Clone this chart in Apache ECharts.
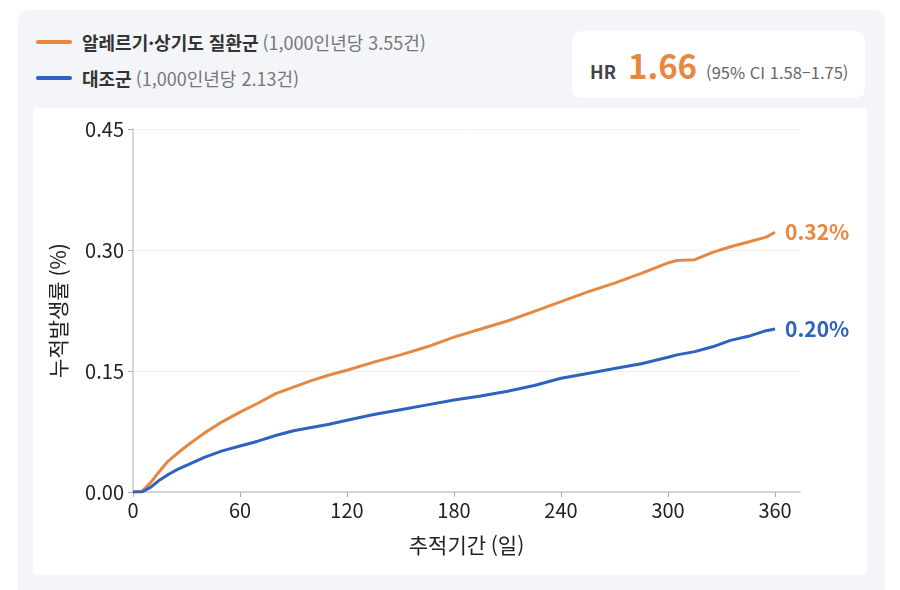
<!DOCTYPE html>
<html lang="ko">
<head>
<meta charset="utf-8">
<title>누적발생률</title>
<script src="https://cdn.jsdelivr.net/npm/echarts@6.0.0/dist/echarts.min.js"></script>
<style>
  html, body { margin: 0; padding: 0; background: #fff; }
  body { width: 900px; height: 590px; position: relative; overflow: hidden;
         font-family: "Noto Sans CJK KR", "Noto Sans", sans-serif; }
  .card { position: absolute; left: 18px; top: 10px; width: 867px; height: 600px;
          background: #f3f5f9; border-radius: 10px; }
  .legend { position: absolute; left: 18px; top: 14px; }
  .legend .row { display: flex; align-items: center; height: 36px; font-size: 18px; color: #333; }
  .legend .swatch { width: 36px; height: 4px; border-radius: 2px; margin-right: 10px; }
  .legend b { font-weight: 700; }
  .legend .note { color: #777; margin-left: 4px; }
  .hr { position: absolute; left: 554px; top: 21px; width: 293px; height: 67px;
        background: #fff; border-radius: 9px; }
  .hr .line { position: absolute; left: 18px; top: 0; height: 67px; display: flex;
              align-items: baseline; padding-top: 14px; box-sizing: border-box; white-space: nowrap; }
  .hr .k { font-weight: 700; font-size: 18px; color: #444; }
  .hr .v { font-weight: 700; font-size: 33px; color: #e8873f; margin-left: 12px; line-height: 40px; }
  .hr .ci { font-size: 16.5px; color: #666; margin-left: 9px; }
  #chart { position: absolute; left: 15px; top: 98px; width: 834px; height: 467px;
           background: #fff; border-radius: 4px; }
</style>
</head>
<body>
<div class="card">
  <div class="legend">
    <div class="row"><span class="swatch" style="background:#e8873f"></span><b>알레르기·상기도 질환군</b><span class="note">(1,000인년당 3.55건)</span></div>
    <div class="row"><span class="swatch" style="background:#2e62c0"></span><b>대조군</b><span class="note">(1,000인년당 2.13건)</span></div>
  </div>
  <div class="hr"><div class="line"><span class="k">HR</span><span class="v">1.66</span><span class="ci">(95% CI 1.58–1.75)</span></div></div>
  <div id="chart"></div>
</div>
<script>
(function() {
    'use strict';

    // follow-up day
    var days = [0, 5, 10, 15, 20, 25, 30, 40, 50, 60, 70, 80, 90, 100, 110, 120,
                135, 150, 165, 180, 195, 210, 225, 240, 255, 270, 285, 300,
                305, 315, 325, 335, 345, 355, 360];
    // cumulative incidence (%)
    var allergyVals = [0, 0.001, 0.012, 0.026, 0.039, 0.048, 0.057, 0.073, 0.087, 0.099,
                       0.110, 0.122, 0.130, 0.138, 0.145, 0.151, 0.161, 0.170, 0.180,
                       0.192, 0.202, 0.212, 0.224, 0.236, 0.248, 0.259, 0.271, 0.284,
                       0.287, 0.288, 0.297, 0.304, 0.310, 0.316, 0.322];
    var controlVals = [0, 0, 0.006, 0.015, 0.022, 0.028, 0.033, 0.043, 0.051, 0.057,
                       0.063, 0.070, 0.076, 0.080, 0.084, 0.089, 0.096, 0.102, 0.108,
                       0.114, 0.119, 0.125, 0.132, 0.141, 0.147, 0.153, 0.159, 0.167,
                       0.170, 0.174, 0.180, 0.188, 0.193, 0.200, 0.202];
    var xTicks = [0, 60, 120, 180, 240, 300, 360];

    var ORANGE = '#e8873f', BLUE = '#2e62c0';
    var FONT = '"Noto Sans CJK KR", "Noto Sans", sans-serif';

    function pairs(vals) {
        return days.map(function(d, i) { return [d, vals[i]]; });
    }

    function makeSeries(name, vals, color) {
        return {
            name: name,
            type: 'line',
            data: pairs(vals),
            showSymbol: false,
            smooth: false,
            lineStyle: { color: color, width: 3 },
            itemStyle: { color: color },
            endLabel: {
                show: true,
                distance: 10,
                color: color,
                fontSize: 21,
                fontWeight: 'bold',
                fontFamily: FONT,
                formatter: function(p) { return p.value[1].toFixed(2) + '%'; }
            }
        };
    }

    var chart = echarts.init(document.getElementById('chart'));
    chart.setOption({
        animation: false,
        grid: { left: 100, top: 21, right: 67, bottom: 83 },
        xAxis: {
            type: 'value',
            min: 0,
            max: 374,
            name: '추적기간 (일)',
            nameLocation: 'middle',
            nameGap: 43,
            nameTextStyle: { fontSize: 21, color: '#222', fontFamily: FONT },
            axisLine: { show: true, lineStyle: { color: '#c8c8c8', width: 1.5 } },
            axisTick: { show: true, length: 5, lineStyle: { color: '#aaa' }, customValues: xTicks },
            axisLabel: { fontSize: 20, color: '#222', margin: 8, fontFamily: FONT, customValues: xTicks },
            splitLine: { show: false }
        },
        yAxis: {
            type: 'value',
            min: 0,
            max: 0.45,
            interval: 0.15,
            name: '누적발생률 (%)',
            nameLocation: 'middle',
            nameGap: 64,
            nameTextStyle: { fontSize: 21, color: '#222', fontFamily: FONT },
            axisLine: { show: true, lineStyle: { color: '#c8c8c8', width: 1.5 } },
            axisTick: { show: true, length: 5, lineStyle: { color: '#aaa' } },
            axisLabel: {
                fontSize: 20, color: '#222', margin: 9, fontFamily: FONT,
                formatter: function(v) { return v.toFixed(2); }
            },
            splitLine: { show: true, lineStyle: { color: '#f0f0f0', width: 1 } }
        },
        series: [
            makeSeries('알레르기·상기도 질환군', allergyVals, ORANGE),
            makeSeries('대조군', controlVals, BLUE)
        ]
    });
})();
</script>
</body>
</html>
